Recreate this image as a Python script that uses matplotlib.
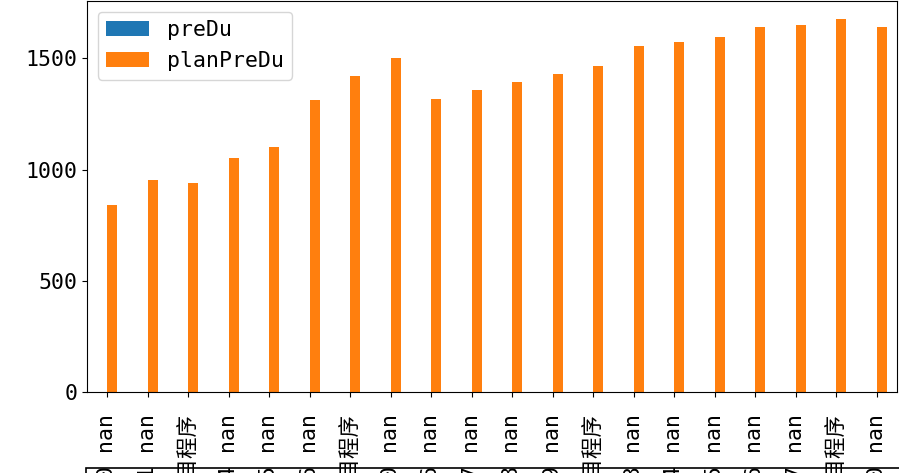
import numpy as np
import pandas as pd
import matplotlib
matplotlib.use("Agg")
from matplotlib import pyplot as plt
from matplotlib.patches import Rectangle
from matplotlib.ticker import MultipleLocator

plt.rcParams['font.family'] = ['DejaVu Sans Mono', 'Noto Sans CJK SC']
plt.rcParams['font.size'] = 15.5

## x labels (tail visible only, rest is cut by the figure edge)
labels = ["2023-03-10 nan", "2023-03-11 nan", "项目程序", "2023-03-14 nan", "2023-03-15 nan",
          "2023-03-16 nan", "项目程序", "2023-03-20 nan", "2023-03-26 nan", "2023-03-27 nan",
          "2023-03-28 nan", "2023-03-29 nan", "项目程序", "2023-04-03 nan", "2023-04-04 nan",
          "2023-04-05 nan", "2023-04-06 nan", "2023-04-07 nan", "项目程序", "2023-04-10 nan"]
preDu = [np.nan] * 20
planPreDu = [840, 952, 938, 1051, 1100, 1311, 1423, 1500, 1316, 1360,
             1392, 1428, 1464, 1554, 1572, 1594, 1639, 1652, 1675, 1639]

df = pd.DataFrame({'preDu': preDu, 'planPreDu': planPreDu}, index=labels)

fig = plt.figure(figsize=(8.99, 4.73), dpi=100)
ax = fig.add_axes([0.0968, 0.1712, 0.901, 0.827])
df.plot(kind='bar', ax=ax)
ax.yaxis.set_major_locator(MultipleLocator(500))
ax.tick_params(axis='x', pad=12)
ax.legend(loc='upper left')

#box under the tick labels
fig.add_artist(Rectangle((86/899, -0.5), 1.0, 0.5 + 5/473, transform=fig.transFigure,
                         fill=False, edgecolor='k', linewidth=1.2, clip_on=False))

fig.savefig('out.png', dpi=100)
